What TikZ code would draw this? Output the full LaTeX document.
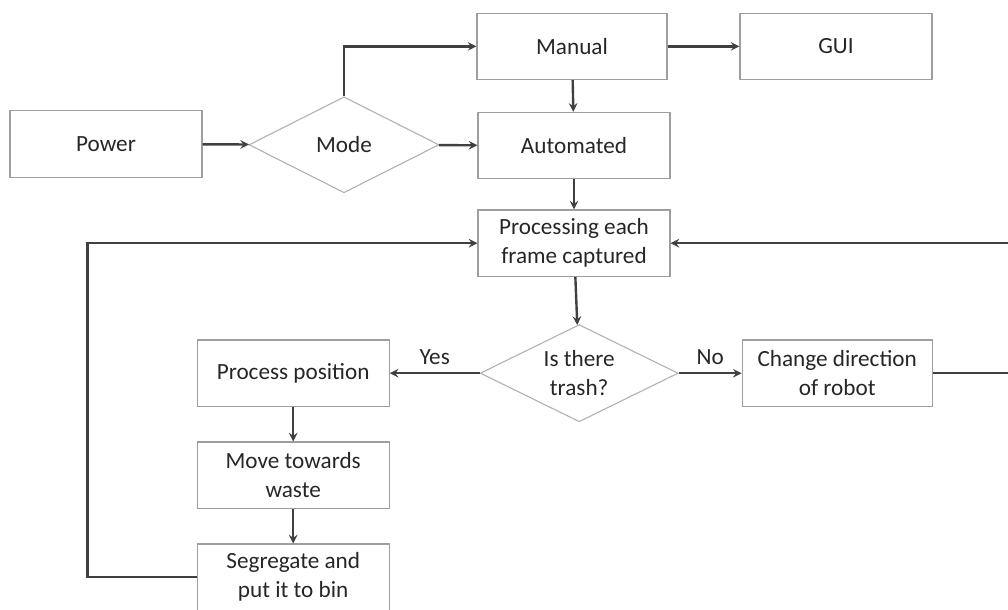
\documentclass[tikz,border=0pt]{standalone}
\usepackage{fontspec}
\setmainfont{Carlito}
\usepackage{tikz}
\usetikzlibrary{shapes,arrows}
\usetikzlibrary{shapes.geometric}
\usetikzlibrary{positioning}
\usetikzlibrary{calc}

\begin{document}
\begin{tikzpicture}[>=stealth,
box/.style={draw=black!38,rectangle,line width=0.8pt,minimum width=4.8cm,minimum height=1.66cm,align=center,font=\fontsize{16.5}{20.5}\selectfont,text=black!85},
decision/.style={draw=black!30,diamond,aspect=2,line width=0.8pt,minimum width=4.8cm,minimum height=2.4cm,inner sep=0pt,align=center,font=\fontsize{16.5}{20.5}\selectfont,text=black!85},
flow/.style={->,draw=black!75,line width=1.7pt}]

\useasboundingbox (0,0) rectangle (25.2,-15.25);
\clip (0,0) rectangle (25.2,-15.25);

% felso sor
\node[box] (power) at (2.65,-3.6) {Power};
\node[decision,minimum width=4.75cm] (mode) at (8.6,-3.62) {Mode};
\node[box,minimum width=4.75cm] (manual) at (14.3,-1.16) {Manual};
\node[box] (gui) at (20.9,-1.16) {GUI};
\node[box] (auto) at (14.35,-3.64) {Automated};

% feldolgozas
\node[box] (proc) at (14.35,-6.08) {Processing each\\frame captured};
\node[decision,minimum width=4.95cm,minimum height=2.43cm] (trash) at (14.48,-9.33) {Is there\\trash?};
\node[box,minimum width=4.75cm] (change) at (20.93,-9.33) {Change direction\\of robot};

% bal oldali ag
\node[box] (pos) at (7.33,-9.33) {Process position};
\node[box] (move) at (7.33,-11.88) {Move towards\\waste};
\node[box] (seg) at (7.33,-14.43) {Segregate and\\put it to bin};

% nyilak
\draw [flow] (power) -- (mode);
\draw [flow] (mode.north) |- (manual.west);
\draw [flow] (mode) -- (auto);
\draw [flow] (manual) -- (gui);
\draw [flow] (manual) -- (auto);
\draw [flow] (auto) -- (proc);
\draw [flow] (proc) -- (trash);
\draw [flow] (trash) -- node[above=2pt,font=\fontsize{16.5}{20.5}\selectfont,text=black!85]{Yes} (pos);
\draw [flow] (trash) -- node[above=2pt,font=\fontsize{16.5}{20.5}\selectfont,text=black!85]{No} (change);
\draw [flow] (pos) -- (move);
\draw [flow] (move) -- (seg);

% visszacsatolasok
\draw [flow] (seg.west) -- ++(-2.73,0) |- (proc.west);
\draw [flow] (change.east) -- ++(4.5,0) |- (proc.east);
\end{tikzpicture}
\end{document}
